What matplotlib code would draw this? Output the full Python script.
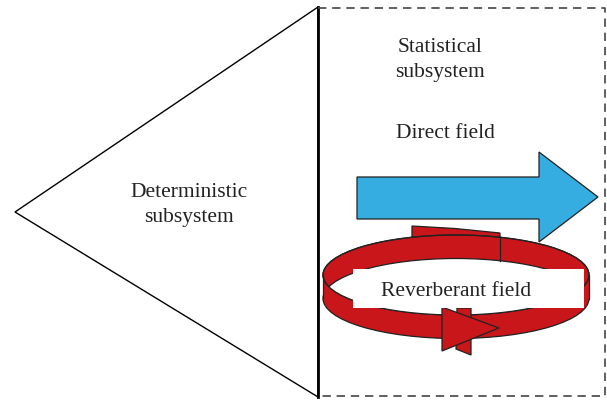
import matplotlib
matplotlib.use("Agg")
import matplotlib.pyplot as plt
from matplotlib.patches import Polygon, Ellipse, Rectangle

# diagram geometry (pixel coordinates, y downwards)
triangle = [(15, 212), (318, 7), (318, 397)]
box_x = (318, 605)
box_y = (8, 396)
blue_arrow = [(357, 177), (539, 177), (539, 152), (598, 197),
              (539, 242), (539, 219), (357, 219)]
ring_cx = 456
ring_top_cy = 275
ring_bot_cy = 298.5
ring_w = 266
ring_h = 80
tail = [(412, 226), (455, 228.5), (500, 233), (500, 245), (412, 245)]
head_back = [(457, 308), (471, 308), (471, 355), (456, 349)]
head = [(442, 307), (499, 328), (442, 351)]
label_box = (353, 269, 231, 39)

labels = ["Statistical\nsubsystem", "Direct field",
          "Deterministic\nsubsystem", "Reverberant field"]
label_pos = [(440, 60), (445, 133), (189, 205), (456, 291)]

red = "#c8161b"
blue = "#36ade0"

fig = plt.figure(figsize=(6.07, 4.0), dpi=100)
ax = fig.add_axes([0, 0, 1, 1])
ax.set_xlim(0, 607)
ax.set_ylim(400, 0)
ax.axis("off")

# left triangle and dashed box
ax.add_patch(Polygon(triangle, closed=True, fill=False, ec="black", lw=1.0))
ax.plot([318, 318], [7, 397], color="black", lw=2.0)
ax.plot([box_x[0], box_x[1], box_x[1], box_x[0]],
        [box_y[0], box_y[0], box_y[1], box_y[1]],
        color="#444444", lw=1.2, dashes=(5, 3.5))

# direct field arrow
ax.add_patch(Polygon(blue_arrow, closed=True, fc=blue, ec="#222222", lw=0.9))

# reverberant ring
ax.add_patch(Polygon(tail, closed=True, fc=red, ec="#222222", lw=0.9))
ax.add_patch(Ellipse((ring_cx, ring_bot_cy), ring_w, ring_h,
                     fc=red, ec="#222222", lw=0.9))
ax.add_patch(Rectangle((ring_cx - ring_w / 2, ring_top_cy), ring_w,
                       ring_bot_cy - ring_top_cy, fc=red, ec="none"))
for sx in (ring_cx - ring_w / 2, ring_cx + ring_w / 2):
    ax.plot([sx, sx], [ring_top_cy, ring_bot_cy], color="#222222", lw=0.9)
top_ell = Ellipse((ring_cx, ring_top_cy), ring_w, ring_h,
                  fc=red, ec="#222222", lw=0.9)
ax.add_patch(top_ell)
hole = Ellipse((ring_cx, ring_bot_cy), ring_w, ring_h,
               fc="white", ec="#222222", lw=0.9)
ax.add_patch(hole)
hole.set_clip_path(top_ell)
ax.add_patch(Ellipse((ring_cx, ring_top_cy), ring_w, ring_h,
                     fill=False, ec="#222222", lw=0.9))
ax.plot([500, 500], [237, 261], color="#222222", lw=0.9)
ax.add_patch(Polygon(head_back, closed=True, fc=red, ec="#222222", lw=0.9))
ax.add_patch(Polygon(head, closed=True, fc=red, ec="#222222", lw=0.9))
bx, by, bw, bh = label_box
ax.add_patch(Rectangle((bx, by), bw, bh, fc="white", ec="none"))

for txt, (x, y) in zip(labels, label_pos):
    ax.text(x, y, txt, ha="center", va="center", fontsize=15.5,
            family="Liberation Serif", color="#222222", linespacing=1.45)

fig.savefig("out.png", dpi=100)
